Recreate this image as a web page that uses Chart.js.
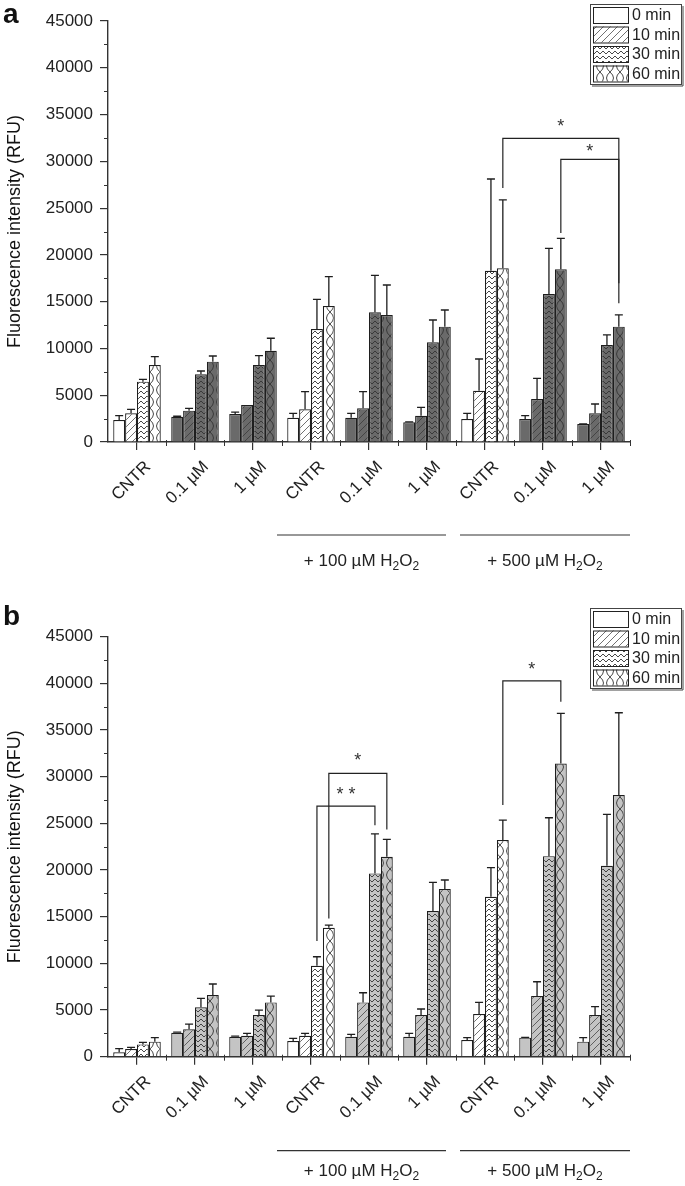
<!DOCTYPE html>
<html>
<head>
<meta charset="utf-8">
<script src="https://cdn.jsdelivr.net/npm/chart.js@4.4.1/dist/chart.umd.min.js"></script>
<style>
  html, body { margin: 0; padding: 0; background: #fff; }
  .panel { width: 685px; height: 593px; }
  canvas { display: block; }
</style>
</head>
<body>
<div class="panel"><canvas id="chart-a" width="685" height="593"></canvas></div>
<div class="panel"><canvas id="chart-b" width="685" height="593"></canvas></div>
<script>
const FONT = "'Liberation Sans', Arial, sans-serif";

const categories = ["CNTR", "0.1 µM", "1 µM", "CNTR", "0.1 µM", "1 µM", "CNTR", "0.1 µM", "1 µM"];
const controlCats = [true, false, false, true, false, false, true, false, false];
const seriesNames = ["0 min", "10 min", "30 min", "60 min"];
const groupLabels = ["+ 100 µM H", "+ 500 µM H"];

// panel a: means and SD
const aMin0 = [2350, 2700, 2990, 2600, 2600, 2100, 2460, 2460, 1920];
const aMin10 = [3070, 3350, 3960, 3490, 3600, 2810, 5480, 4600, 3070];
const aMin30 = [6450, 7230, 8230, 12080, 13870, 10660, 18310, 15820, 10370];
const aMin60 = [8230, 8590, 9760, 14540, 13580, 12330, 18570, 18460, 12330];
const aErr0 = [460, 50, 210, 470, 470, 50, 610, 350, 10];
const aErr10 = [420, 250, 0, 1890, 1780, 900, 3390, 2210, 990];
const aErr30 = [250, 360, 1000, 3170, 3940, 2380, 9800, 4880, 1070];
const aErr60 = [890, 600, 1330, 3130, 3200, 1780, 7300, 3310, 1250];

// panel b: means and SD
const bMin0 = [470, 2570, 2140, 1680, 2140, 2140, 1790, 2040, 1610];
const bMin10 = [820, 2930, 2250, 2250, 5820, 4470, 4570, 6500, 4470];
const bMin30 = [1320, 5290, 4470, 9750, 19640, 15600, 17140, 21490, 20460];
const bMin60 = [1610, 6610, 5820, 13820, 21420, 17960, 23210, 31420, 28030];
const bErr0 = [390, 70, 60, 290, 250, 360, 250, 40, 430];
const bErr10 = [180, 570, 250, 250, 1030, 640, 1250, 1530, 890];
const bErr30 = [220, 960, 530, 960, 4240, 3080, 3110, 4110, 5500];
const bErr60 = [430, 1180, 680, 280, 1860, 970, 2140, 5360, 8820];

// significance brackets: [category, series] ends, bracket top, foot levels, star level
const aBrackets = [
  { from: [6, 3], to: [8, 3], top: 32460, footL: 27150, footR: 14830, label: "*", labelAt: 34200 },
  { from: [7, 3], to: [8, 3], top: 30220, footL: 22340, footR: 16960, label: "*", labelAt: 31540 },
];
const bBrackets = [
  { from: [3, 2], to: [4, 2], top: 26850, footL: 12390, footR: 24810, label: "**", labelAt: 28560 },
  { from: [3, 3], to: [4, 3], top: 30350, footL: 14820, footR: 24350, label: "*", labelAt: 32230 },
  { from: [6, 3], to: [7, 3], top: 40270, footL: 26960, footR: 38020, label: "*", labelAt: 41980 },
];

function makePattern(kind, bg){
  if (kind === 0) return bg;
  const c = document.createElement("canvas");
  const g = c.getContext("2d");
  if (kind === 1){
    c.width = 7; c.height = 7;
  } else if (kind === 2){
    c.width = 6; c.height = 5;
  } else {
    c.width = 10; c.height = 12;
  }
  g.fillStyle = bg;
  g.fillRect(0, 0, c.width, c.height);
  g.strokeStyle = "#333";
  g.lineWidth = kind === 1 ? 0.7 : 0.9;
  g.beginPath();
  if (kind === 1){
    g.moveTo(0, 7); g.lineTo(7, 0);
    g.moveTo(-1, 1); g.lineTo(1, -1);
    g.moveTo(6, 8); g.lineTo(8, 6);
  } else if (kind === 2){
    g.moveTo(0, 4); g.lineTo(3, 1); g.lineTo(6, 4);
  } else {
    g.moveTo(0, 0); g.quadraticCurveTo(7, 6, 0, 12);
    g.moveTo(10, 0); g.quadraticCurveTo(3, 6, 10, 12);
  }
  g.stroke();
  return g.createPattern(c, "repeat");
}

function drawH2O2(ctx, prefix, cx, y){
  ctx.save();
  ctx.fillStyle = "#222";
  ctx.textBaseline = "alphabetic";
  const big = `17px ${FONT}`;
  const small = `12px ${FONT}`;
  ctx.font = big;
  const w1 = ctx.measureText(prefix).width;
  const wO = ctx.measureText("O").width;
  ctx.font = small;
  const w2 = ctx.measureText("2").width;
  const total = w1 + w2 + wO + w2;
  let x = cx - total / 2;
  ctx.textAlign = "left";
  ctx.font = big; ctx.fillText(prefix, x, y); x += w1;
  ctx.font = small; ctx.fillText("2", x, y + 4); x += w2;
  ctx.font = big; ctx.fillText("O", x, y); x += wO;
  ctx.font = small; ctx.fillText("2", x, y + 4);
  ctx.restore();
}

function decorPlugin(cfg){
  return {
    id: "decor",
    afterDraw(chart){
      const ctx = chart.ctx;
      const xs = chart.scales.x;
      const ys = chart.scales.y;
      const area = chart.chartArea;
      ctx.save();
      ctx.strokeStyle = "#1e1e1e";
      ctx.lineWidth = 1.3;

      // error bars (upper only)
      cfg.errs.forEach((errs, si) => {
        const meta = chart.getDatasetMeta(si);
        meta.data.forEach((bar, ci) => {
          const e = errs[ci];
          if (!e) return;
          const yTop = ys.getPixelForValue(cfg.means[si][ci] + e);
          ctx.beginPath();
          ctx.moveTo(bar.x, bar.y);
          ctx.lineTo(bar.x, yTop);
          ctx.moveTo(bar.x - 4, yTop);
          ctx.lineTo(bar.x + 4, yTop);
          ctx.stroke();
        });
      });

      // minor y ticks
      ctx.strokeStyle = "#333";
      ctx.lineWidth = 1;
      for (let v = 2500; v < 45000; v += 5000){
        const y = Math.round(ys.getPixelForValue(v)) + 0.5;
        ctx.beginPath();
        ctx.moveTo(area.left - 4, y);
        ctx.lineTo(area.left, y);
        ctx.stroke();
      }
      // minor x ticks at category boundaries
      const half = (xs.getPixelForValue(1) - xs.getPixelForValue(0)) / 2;
      for (let i = 0; i < categories.length; i++){
        const xx = Math.round(xs.getPixelForValue(i) + half) + 0.5;
        ctx.beginPath();
        ctx.moveTo(xx, area.bottom - 2);
        ctx.lineTo(xx, area.bottom + 4);
        ctx.stroke();
      }

      // brackets
      ctx.strokeStyle = "#222";
      ctx.lineWidth = 1.2;
      cfg.brackets.forEach((b) => {
        const x1 = chart.getDatasetMeta(b.from[1]).data[b.from[0]].x;
        const x2 = chart.getDatasetMeta(b.to[1]).data[b.to[0]].x;
        const yt = ys.getPixelForValue(b.top);
        ctx.beginPath();
        ctx.moveTo(x1, ys.getPixelForValue(b.footL));
        ctx.lineTo(x1, yt);
        ctx.lineTo(x2, yt);
        ctx.lineTo(x2, ys.getPixelForValue(b.footR));
        ctx.stroke();
        ctx.fillStyle = "#333";
        ctx.font = `18px ${FONT}`;
        ctx.textAlign = "center";
        ctx.textBaseline = "alphabetic";
        ctx.fillText(b.label.split("").join(" "), (x1 + x2) / 2, ys.getPixelForValue(b.labelAt) + 10);
      });

      // legend
      const lx = 590, ly = cfg.legendTop, lw = 91, rowH = 19.5;
      ctx.fillStyle = "#fff";
      ctx.fillRect(lx, ly, lw, rowH * 4 + 2);
      ctx.strokeStyle = "#444";
      ctx.lineWidth = 1;
      ctx.strokeRect(lx + 0.5, ly + 0.5, lw, rowH * 4 + 2);
      ctx.beginPath();
      ctx.moveTo(lx + 2, ly + rowH * 4 + 4);
      ctx.lineTo(lx + lw + 2, ly + rowH * 4 + 4);
      ctx.lineTo(lx + lw + 2, ly + 2);
      ctx.stroke();
      seriesNames.forEach((name, i) => {
        const sy = ly + 3 + i * rowH;
        ctx.fillStyle = makePattern(i, "#fff");
        ctx.fillRect(lx + 3, sy, 35, 16);
        ctx.strokeStyle = "#222";
        ctx.strokeRect(lx + 3.5, sy + 0.5, 35, 16);
        ctx.fillStyle = "#222";
        ctx.font = `16px ${FONT}`;
        ctx.textAlign = "left";
        ctx.textBaseline = "middle";
        ctx.fillText(name, lx + 42, sy + 9);
      });

      // treatment group lines and labels
      ctx.strokeStyle = "#333";
      ctx.lineWidth = 1.2;
      const lines = [
        [xs.getPixelForValue(3) - 34, xs.getPixelForValue(5) + 19],
        [xs.getPixelForValue(6) - 25, area.right],
      ];
      lines.forEach(([x1, x2], i) => {
        ctx.beginPath();
        ctx.moveTo(x1, cfg.lineY);
        ctx.lineTo(x2, cfg.lineY);
        ctx.stroke();
        drawH2O2(ctx, groupLabels[i], (x1 + x2) / 2, cfg.labelY);
      });

      // panel letter
      ctx.fillStyle = "#111";
      ctx.font = `bold 28px ${FONT}`;
      ctx.textAlign = "left";
      ctx.textBaseline = "alphabetic";
      ctx.fillText(cfg.letter, 3, cfg.letterY);
      ctx.restore();
    },
  };
}

function makeChart(id, cfg){
  const datasets = seriesNames.map((name, si) => ({
    label: name,
    data: cfg.means[si],
    backgroundColor: categories.map((c, ci) => makePattern(si, controlCats[ci] ? "#ffffff" : cfg.fill)),
    borderColor: "#1e1e1e",
    borderWidth: 1.2,
    categoryPercentage: 0.82,
    barPercentage: 1.0,
  }));
  return new Chart(document.getElementById(id), {
    type: "bar",
    data: { labels: categories, datasets },
    options: {
      responsive: false,
      animation: false,
      events: [],
      layout: { padding: { top: cfg.top, right: 55, left: 0, bottom: 0 } },
      plugins: { legend: { display: false }, tooltip: { enabled: false } },
      scales: {
        x: {
          grid: { offset: false, drawOnChartArea: false, drawTicks: true, tickLength: 8, color: "#333", lineWidth: 1.2 },
          border: { color: "#333", width: 1.4 },
          ticks: { autoSkip: false, maxRotation: 45, minRotation: 45, padding: 7, labelOffset: 11, color: "#222", font: { family: FONT, size: 17 } },
          afterFit: (s) => { s.height = cfg.xHeight; },
        },
        y: {
          min: 0,
          max: 45000,
          grid: { drawOnChartArea: false, drawTicks: true, tickLength: 8, color: "#333", lineWidth: 1.2 },
          border: { color: "#333", width: 1.4 },
          ticks: { stepSize: 5000, padding: 7, color: "#222", font: { family: FONT, size: 17 }, callback: (v) => String(v) },
          title: { display: true, text: "Fluorescence intensity (RFU)", color: "#111", font: { family: FONT, size: 18 }, padding: { top: 4, bottom: 0 } },
          afterFit: (s) => { s.width = 108; },
        },
      },
    },
    plugins: [decorPlugin(cfg)],
  });
}

makeChart("chart-a", {
  means: [aMin0, aMin10, aMin30, aMin60],
  errs: [aErr0, aErr10, aErr30, aErr60],
  brackets: aBrackets,
  fill: "#6a6a6a",
  top: 21,
  xHeight: 151,
  legendTop: 4,
  lineY: 535,
  labelY: 566,
  letter: "a",
  letterY: 23,
});

makeChart("chart-b", {
  means: [bMin0, bMin10, bMin30, bMin60],
  errs: [bErr0, bErr10, bErr30, bErr60],
  brackets: bBrackets,
  fill: "#c4c4c4",
  top: 43.7,
  xHeight: 129.3,
  legendTop: 15,
  lineY: 557.7,
  labelY: 583,
  letter: "b",
  letterY: 32,
});
</script>
</body>
</html>
